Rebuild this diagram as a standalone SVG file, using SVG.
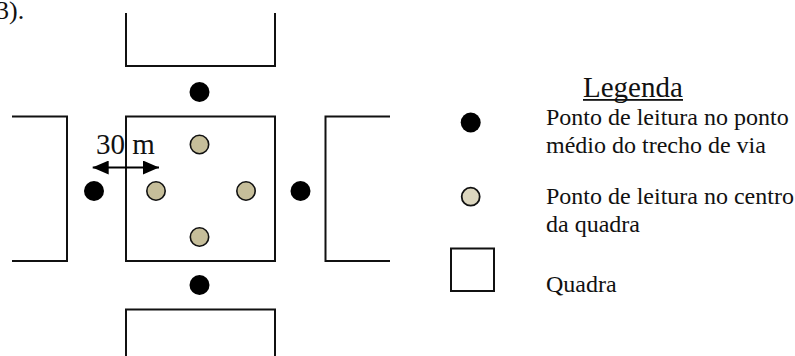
<svg xmlns="http://www.w3.org/2000/svg" width="795" height="356" viewBox="0 0 795 356">
  <style>
    .blk { fill: none; stroke: #111; stroke-width: 2; }
    .mid { fill: #000; }
    .ctr { fill: #C6BE9A; stroke: #111; stroke-width: 1.6; }
    .t { font-family: "Liberation Serif", "Times New Roman", serif; fill: #111; }
  </style>
  <defs>
    <marker id="ah" viewBox="0 0 16 14" refX="16" refY="7" markerWidth="16" markerHeight="14" markerUnits="userSpaceOnUse" orient="auto-start-reverse">
      <path d="M0,0 L16,7 L0,14 Z" fill="#000"/>
    </marker>
  </defs>
  <rect width="795" height="356" fill="#fff"/>

  <text class="t" x="-4" y="19" font-size="26">3).</text>

  <g id="quadra-top"><path class="blk" d="M126,13 V66 H275 V13"/></g>
  <g id="quadra-left"><path class="blk" d="M12,116.5 H67 V261 H12"/></g>
  <g id="quadra-center"><rect class="blk" x="126" y="116.5" width="149" height="144.5"/></g>
  <g id="quadra-right"><path class="blk" d="M390,116.5 H325.5 V261 H390"/></g>
  <g id="quadra-bottom"><path class="blk" d="M126,357 V309.5 H275 V357"/></g>

  <g id="pontos-medios">
    <circle class="mid" cx="199.5" cy="92" r="10"/>
    <circle class="mid" cx="94" cy="191" r="10"/>
    <circle class="mid" cx="300.5" cy="191" r="10"/>
    <circle class="mid" cx="199.5" cy="285" r="10"/>
  </g>
  <g id="pontos-centro">
    <circle class="ctr" cx="199.5" cy="144.5" r="9.2"/>
    <circle class="ctr" cx="156" cy="191" r="9.2"/>
    <circle class="ctr" cx="246" cy="191" r="9.2"/>
    <circle class="ctr" cx="199.5" cy="237" r="9.2"/>
  </g>

  <g id="connectors">
    <line x1="92.7" y1="167.5" x2="159" y2="167.5" stroke="#000" stroke-width="2.2" marker-start="url(#ah)" marker-end="url(#ah)"/>
  </g>
  <text class="t" x="96" y="153.5" font-size="29">30 m</text>

  <g id="legenda">
    <text class="t" x="583" y="97" font-size="29">Legenda</text>
    <rect x="583" y="99" width="100" height="1.8" fill="#111"/>
    <circle class="mid" cx="470.7" cy="122.5" r="10"/>
    <text class="t" x="546" y="125" font-size="24">Ponto de leitura no ponto</text>
    <text class="t" x="546" y="153" font-size="24">médio do trecho de via</text>
    <circle cx="470.7" cy="196.7" r="9" fill="#DCD6BE" stroke="#111" stroke-width="1.8"/>
    <text class="t" x="546" y="204" font-size="24">Ponto de leitura no centro</text>
    <text class="t" x="546" y="232" font-size="24">da quadra</text>
    <rect class="blk" x="451" y="248.5" width="43" height="42.5"/>
    <text class="t" x="546" y="292" font-size="24">Quadra</text>
  </g>
</svg>
